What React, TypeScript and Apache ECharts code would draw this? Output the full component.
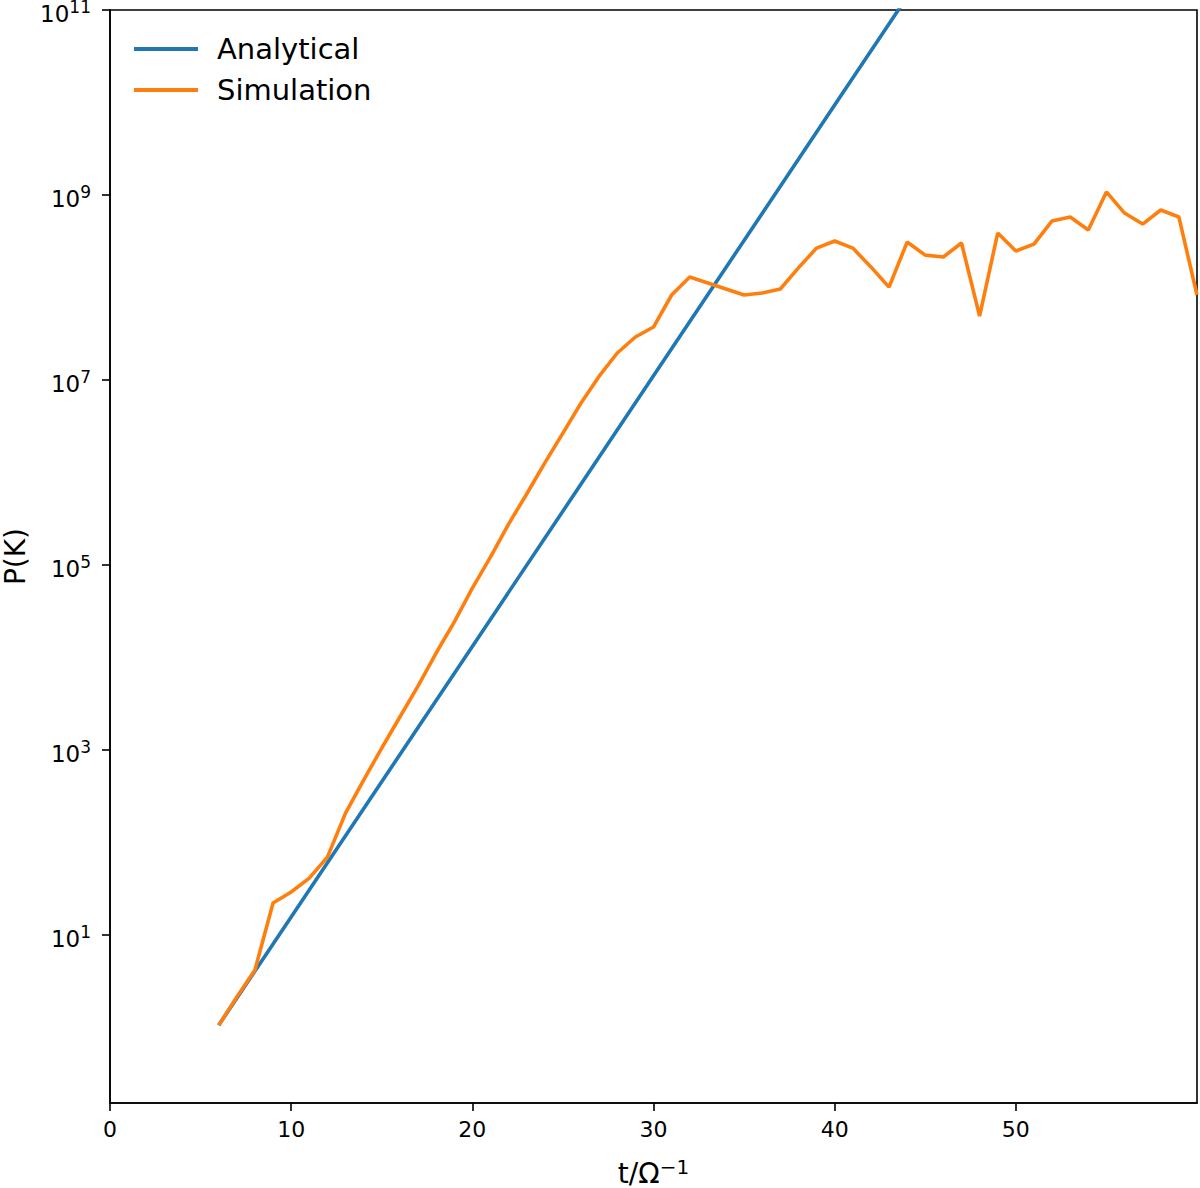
import React, { useEffect, useRef } from "react";
import * as echarts from "echarts";

// ---- data ----
const simT = [6, 7, 8, 9, 10, 11, 12, 13, 14, 15, 16, 17, 18, 19, 20, 21, 22, 23, 24, 25, 26, 27, 28, 29, 30, 31, 32, 33, 34, 35, 36, 37, 38, 39, 40, 41, 42, 43, 44, 45, 46, 47, 48, 49, 50, 51, 52, 53, 54, 55, 56, 57, 58, 59, 60];
const simP = [1.06, 2.14, 4.19, 22.2, 29.2, 41.3, 69.7, 208, 474, 1052, 2276, 4920, 11190, 24200, 56400, 1.22e5, 2.77e5, 5.86e5, 1.27e6, 2.67e6, 5.64e6, 1.10e7, 1.96e7, 2.92e7, 3.74e7, 8.3e7, 1.3e8, 1.12e8, 9.64e7, 8.3e7, 8.73e7, 9.64e7, 1.63e8, 2.67e8, 3.18e8, 2.67e8, 1.67e8, 1.01e8, 3.1e8, 2.24e8, 2.14e8, 3.03e8, 4.92e7, 3.88e8, 2.48e8, 2.95e8, 5.24e8, 5.78e8, 4.19e8, 1.08e9, 6.38e8, 4.85e8, 6.89e8, 5.78e8, 8.3e7];
const anaT = [6, 10, 20, 30, 40, 50, 60];
const anaP = [1.06, 15.7, 1.32e4, 1.11e7, 9.38e9, 7.89e12, 6.64e15];

const xTicks = [0, 10, 20, 30, 40, 50];
const yTicks = [1e1, 1e3, 1e5, 1e7, 1e9, 1e11];
const seriesNames = ["Analytical", "Simulation"];
const colors = ["#1f77b4", "#ff7f0e"];

const FONT = "DejaVu Sans";

export default function App() {
  const ref = useRef<HTMLDivElement>(null);
  useEffect(() => {
    document.body.style.margin = "0";
    const chart = echarts.init(ref.current!, null, { renderer: "svg" });
    const axisLineStyle = { color: "#000", width: 1.6 };
    chart.setOption({
      animation: false,
      backgroundColor: "#fff",
      textStyle: { fontFamily: FONT },
      grid: {
        left: 110,
        right: 3,
        top: 10,
        bottom: 85,
        show: true,
        borderColor: "#000",
        borderWidth: 1.6,
        containLabel: false,
        outerBoundsMode: "none",
      },
      legend: {
        orient: "vertical",
        left: 134,
        top: 33,
        padding: 0,
        icon: "rect",
        itemWidth: 64,
        itemHeight: 4,
        itemGap: 9,
        data: seriesNames,
        textStyle: {
          fontFamily: FONT,
          fontSize: 29,
          lineHeight: 32,
          color: "#000",
          padding: [0, 0, 0, 14],
        },
      },
      xAxis: {
        type: "value",
        min: 0,
        max: 60,
        name: "t/Ω{s|−1}",
        nameLocation: "middle",
        nameGap: 54,
        nameTextStyle: {
          fontFamily: FONT,
          fontSize: 28,
          color: "#000",
          rich: {
            s: { fontFamily: FONT, fontSize: 20, padding: [0, 0, 12, 0], color: "#000" },
          },
        },
        axisLine: { show: true, lineStyle: axisLineStyle },
        axisTick: { show: true, length: 8, lineStyle: axisLineStyle, customValues: xTicks },
        axisLabel: {
          fontFamily: FONT,
          fontSize: 22,
          color: "#000",
          margin: 15,
          customValues: xTicks,
        },
        splitLine: { show: false },
      },
      yAxis: {
        type: "log",
        logBase: 10,
        min: 0.153,
        max: 1e11,
        name: "P(K)",
        nameLocation: "middle",
        nameGap: 80,
        nameTextStyle: { fontFamily: FONT, fontSize: 28, color: "#000" },
        axisLine: { show: true, lineStyle: axisLineStyle },
        axisTick: { show: true, length: 8, lineStyle: axisLineStyle, customValues: yTicks },
        axisLabel: {
          fontFamily: FONT,
          color: "#000",
          margin: 19,
          customValues: yTicks,
          formatter: (v: number) => `{b|10}{s|${Math.round(Math.log10(v))}}`,
          rich: {
            b: { fontFamily: FONT, fontSize: 23, color: "#000", padding: [8, 0, 0, 0] },
            s: { fontFamily: FONT, fontSize: 17, color: "#000", padding: [0, 0, 6, 0] },
          },
        },
        splitLine: { show: false },
        minorTick: { show: false },
      },
      series: [
        {
          name: seriesNames[0],
          type: "line",
          data: anaT.map((t, i) => [t, anaP[i]]),
          symbol: "none",
          lineStyle: { color: colors[0], width: 3.6 },
          itemStyle: { color: colors[0] },
          clip: true,
        },
        {
          name: seriesNames[1],
          type: "line",
          data: simT.map((t, i) => [t, simP[i]]),
          symbol: "none",
          lineStyle: { color: colors[1], width: 3.6 },
          itemStyle: { color: colors[1] },
          clip: true,
        },
      ],
    });
    return () => chart.dispose();
  }, []);
  return <div ref={ref} style={{ width: 1200, height: 1188 }} />;
}
